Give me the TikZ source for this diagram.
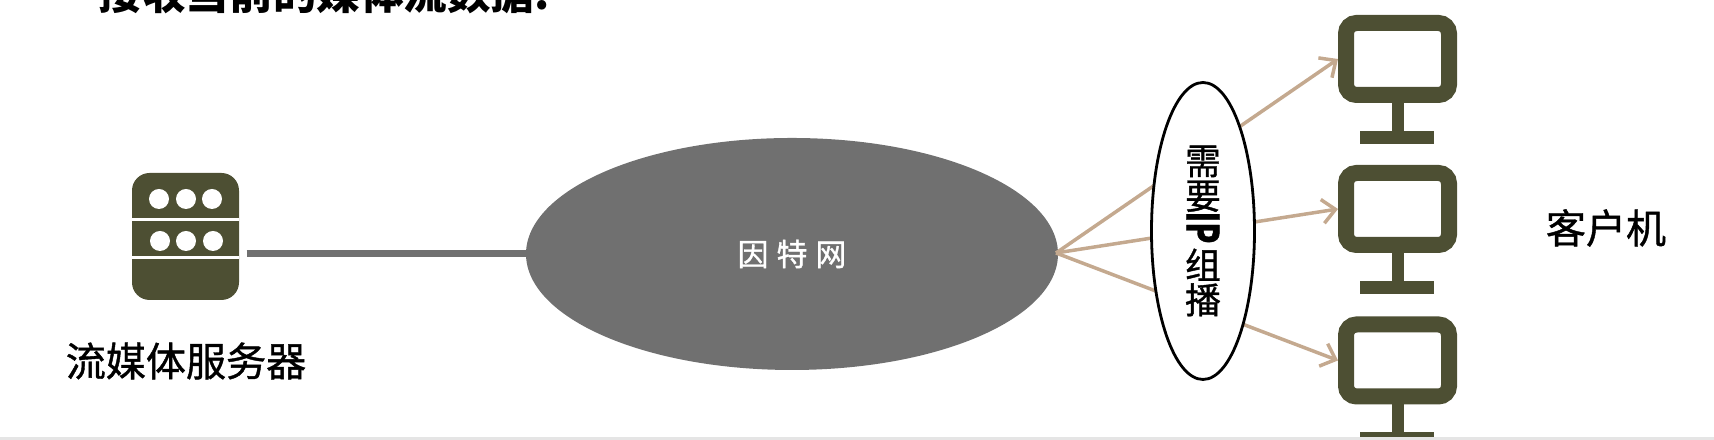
\documentclass[tikz,border=0pt]{standalone}
\usepackage{fontspec}
\setmainfont{Noto Sans CJK SC}
\newfontfamily\labelfont[FakeBold=1]{Noto Sans CJK SC}
\lineskiplimit=-10pt
\definecolor{iconolive}{RGB}{77,79,51}
\definecolor{netgray}{RGB}{112,112,112}
\definecolor{linktan}{RGB}{196,169,143}
\definecolor{bargray}{RGB}{229,229,229}
\usetikzlibrary{arrows.meta, positioning, shapes.geometric}
\tikzset{
  monitor/.style={draw=iconolive, fill=white, line width=0.16cm, rounded corners=3pt,
                  minimum width=1.03cm, minimum height=0.72cm, inner sep=0pt},
  multilink/.style={linktan, line width=0.035cm, -{Straight Barb[length=0.13cm,width=0.24cm]}},
  iconpart/.style={fill=iconolive}
}

\begin{document}
\begin{tikzpicture}

\clip (0,0) rectangle (17.14,4.40);
\useasboundingbox (0,0) rectangle (17.14,4.40);

% Title, cut off by the top edge
\node[font=\fontsize{12.4pt}{14pt}\selectfont\bfseries, anchor=west, inner sep=0pt] (title) at (0.98,4.47) {接收当前的媒体流数据:};

% --- Server ---
\node[fill=iconolive, rounded corners=5pt, minimum width=1.07cm, minimum height=1.27cm, inner sep=0pt] (server) at (1.855,2.035) {};
\fill[white] (1.32,2.185) rectangle (2.39,2.215);
\fill[white] (1.32,1.805) rectangle (2.39,1.835);
\foreach \x/\y in {1.59/2.41,1.86/2.41,2.12/2.41,1.60/1.99,1.86/1.99,2.13/1.99} {
  \fill[white] (\x,\y) circle (0.1);
}
\node[font=\fontsize{11.4pt}{13pt}\selectfont\labelfont, inner sep=0pt] (serverlabel) at (1.86,0.79) {流媒体服务器};

% --- Internet ---
\node[ellipse, fill=netgray, minimum width=5.32cm, minimum height=2.32cm, inner sep=0pt, outer sep=0pt,
      font=\fontsize{8.8pt}{10pt}\selectfont\labelfont, text=white] (inet) at (7.92,1.86) {\raisebox{-0.03cm}{因\hspace{0.08cm}特\hspace{0.08cm}网}};
\draw[netgray, line width=0.07cm, shorten <=0.07cm] (server.east |- inet.west) -- (inet.west);
\coordinate (hub) at (10.56,1.87);

% --- Clients ---
\foreach \n/\y in {1/3.81,2/2.31,3/0.795} {
  \node[monitor] (client\n) at (13.975,\y) {};
  \fill[iconpart] (13.915,\y-0.44) rectangle (14.035,\y-0.73);
  \fill[iconpart] (13.60,\y-0.72) rectangle (14.34,\y-0.85);
  \draw[multilink] (hub) -- (client\n.west);
}
\node[font=\fontsize{11.4pt}{13pt}\selectfont\labelfont, inner sep=0pt] (clientlabel) at (16.06,2.12) {客户机};

% --- Multicast ellipse ---
\node[ellipse, draw=black, fill=white, line width=0.028cm, minimum width=1.03cm, minimum height=2.97cm, inner sep=0pt,
      align=center, font=\fontsize{10.2pt}{9.9pt}\selectfont\labelfont] (multicast) at (12.03,2.09)
      {需\\要\\\smash{\rotatebox[origin=c]{-90}{\scalebox{0.7}[1]{\fontsize{12.5pt}{12.5pt}\selectfont\bfseries IP}}}\\组\\播};

% Bottom edge
\fill[bargray] (0,0) rectangle (17.14,0.025);

\end{tikzpicture}
\end{document}
